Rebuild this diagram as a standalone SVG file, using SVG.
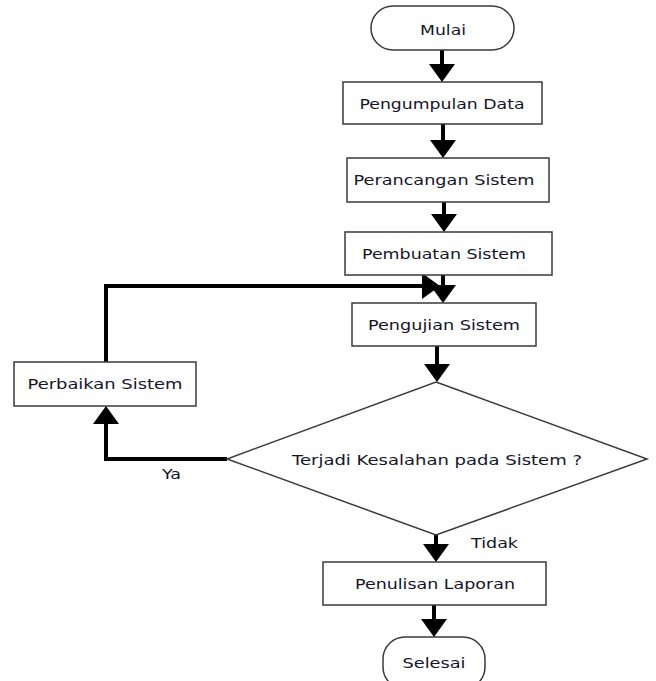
<svg xmlns="http://www.w3.org/2000/svg" width="656" height="681" viewBox="0 0 656 681">
<style>
.box{fill:#fff;stroke:#3a3a3a;stroke-width:1.5}
.t{font-family:"DejaVu Sans","Liberation Sans",sans-serif;font-size:14px;fill:#15152a;text-anchor:middle}
.tl{font-family:"DejaVu Sans","Liberation Sans",sans-serif;font-size:14px;fill:#15152a}
.c{fill:none;stroke:#000;stroke-width:4}
</style>
<defs>
<marker id="ah" markerUnits="userSpaceOnUse" markerWidth="18" markerHeight="26" viewBox="0 0 18 26" refX="1" refY="13" orient="auto"><path d="M0,0 L18,13 L0,26 z" fill="#000"/></marker>
</defs>
<rect width="656" height="681" fill="#fff"/>
<g id="connectors">
<path class="c" d="M442,50 V65" marker-end="url(#ah)"/>
<path class="c" d="M443,124 V141" marker-end="url(#ah)"/>
<path class="c" d="M444,202 V215" marker-end="url(#ah)"/>
<path class="c" d="M443,275 V286" marker-end="url(#ah)"/>
<path class="c" d="M106,362 V286 H423" marker-end="url(#ah)"/>
<path class="c" d="M437,346 V365" marker-end="url(#ah)"/>
<path class="c" d="M227,459 H106 V423" marker-end="url(#ah)"/>
<path class="c" d="M436,535 V545" marker-end="url(#ah)"/>
<path class="c" d="M434,605 V620" marker-end="url(#ah)"/>
<text class="tl" x="162" y="479" textLength="19" lengthAdjust="spacingAndGlyphs">Ya</text>
<text class="tl" x="471" y="548" textLength="47" lengthAdjust="spacingAndGlyphs">Tidak</text>
</g>
<g id="mulai">
<rect class="box" x="371" y="6" width="143" height="44" rx="22" ry="22"/>
<text class="t" x="443" y="35" textLength="46" lengthAdjust="spacingAndGlyphs">Mulai</text>
</g>
<g id="pengumpulan">
<rect class="box" x="343" y="82" width="199" height="42"/>
<text class="t" x="442" y="109" textLength="165" lengthAdjust="spacingAndGlyphs">Pengumpulan Data</text>
</g>
<g id="perancangan">
<rect class="box" x="347" y="158" width="202" height="44"/>
<text class="t" x="444" y="185" textLength="181" lengthAdjust="spacingAndGlyphs">Perancangan Sistem</text>
</g>
<g id="pembuatan">
<rect class="box" x="345" y="232" width="207" height="43"/>
<text class="t" x="444" y="259" textLength="164" lengthAdjust="spacingAndGlyphs">Pembuatan Sistem</text>
</g>
<g id="pengujian">
<rect class="box" x="352" y="303" width="184" height="43"/>
<text class="t" x="444" y="330" textLength="152" lengthAdjust="spacingAndGlyphs">Pengujian Sistem</text>
</g>
<g id="perbaikan">
<rect class="box" x="14" y="362" width="182" height="44"/>
<text class="t" x="105" y="389" textLength="155" lengthAdjust="spacingAndGlyphs">Perbaikan Sistem</text>
</g>
<g id="keputusan">
<polygon class="box" points="436,382 647,459 436,535 227,459"/>
<text class="t" x="437" y="465" textLength="290" lengthAdjust="spacingAndGlyphs">Terjadi Kesalahan pada Sistem ?</text>
</g>
<g id="penulisan">
<rect class="box" x="323" y="562" width="223" height="43"/>
<text class="t" x="435" y="589" textLength="160" lengthAdjust="spacingAndGlyphs">Penulisan Laporan</text>
</g>
<g id="selesai">
<rect class="box" x="383" y="637" width="102" height="52" rx="22" ry="22"/>
<text class="t" x="434" y="668" textLength="63" lengthAdjust="spacingAndGlyphs">Selesai</text>
</g>
</svg>
